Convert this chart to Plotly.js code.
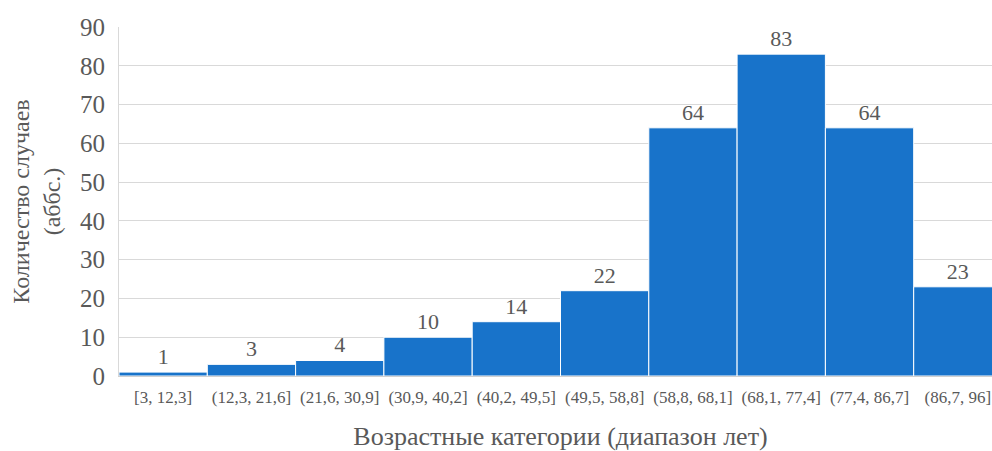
<!DOCTYPE html>
<html>
<head>
<meta charset="utf-8">
<script src="https://cdn.plot.ly/plotly-3.0.1.min.js"></script>
<style>
  html, body { margin: 0; padding: 0; overflow: hidden; background: #fff; }
  #chart { width: 1002px; height: 451px; }
</style>
</head>
<body>
<div id="chart"></div>
<script>
// Age bins (years) and number of cases in each bin
const ageBins = [
  '[3, 12,3]', '(12,3, 21,6]', '(21,6, 30,9]', '(30,9, 40,2]', '(40,2, 49,5]',
  '(49,5, 58,8]', '(58,8, 68,1]', '(68,1, 77,4]', '(77,4, 86,7]', '(86,7, 96]'
];
const caseCounts = [1, 3, 4, 10, 14, 22, 64, 83, 64, 23];
const yTicks = [0, 10, 20, 30, 40, 50, 60, 70, 80, 90];

const serif = 'Liberation Serif, Times New Roman, serif';
const textGrey = '#595959';

const trace = {
  type: 'bar',
  x: ageBins,
  y: caseCounts,
  text: caseCounts.map(String),
  textposition: 'outside',
  cliponaxis: false,
  textfont: { family: serif, size: 22, color: textGrey },
  outsidetextfont: { family: serif, size: 22, color: textGrey },
  marker: { color: '#1873CA', line: { color: '#ffffff', width: 1 } },
  hoverinfo: 'x+y'
};

const layout = {
  width: 1002,
  height: 451,
  margin: { l: 119, r: 0, t: 27, b: 75 },
  paper_bgcolor: '#ffffff',
  plot_bgcolor: '#ffffff',
  bargap: 0,
  showlegend: false,
  font: { family: serif, color: textGrey },
  xaxis: {
    type: 'category',
    range: [-0.5, 9.5],
    tickfont: { family: serif, size: 17, color: textGrey },
    ticks: '',
    ticklabelstandoff: 6,
    showline: true,
    linecolor: '#d0d0d0',
    linewidth: 1,
    showgrid: false,
    tickangle: 0,
    automargin: false,
    title: {
      text: 'Возрастные категории (диапазон лет)',
      font: { family: serif, size: 26, color: textGrey },
      standoff: 20
    }
  },
  yaxis: {
    range: [0, 90],
    tickvals: yTicks,
    ticktext: yTicks.map(String),
    tickfont: { family: serif, size: 25, color: textGrey },
    ticks: '',
    ticklabelstandoff: 8,
    showgrid: true,
    gridcolor: '#d9d9d9',
    gridwidth: 1,
    showline: true,
    linecolor: '#d9d9d9',
    zeroline: false,
    automargin: false,
    title: {
      text: 'Количество случаев<br>(аббс.)',
      font: { family: serif, size: 24, color: textGrey },
      standoff: 12
    }
  }
};

Plotly.newPlot('chart', [trace], layout, { displayModeBar: false, staticPlot: true });
</script>
</body>
</html>
